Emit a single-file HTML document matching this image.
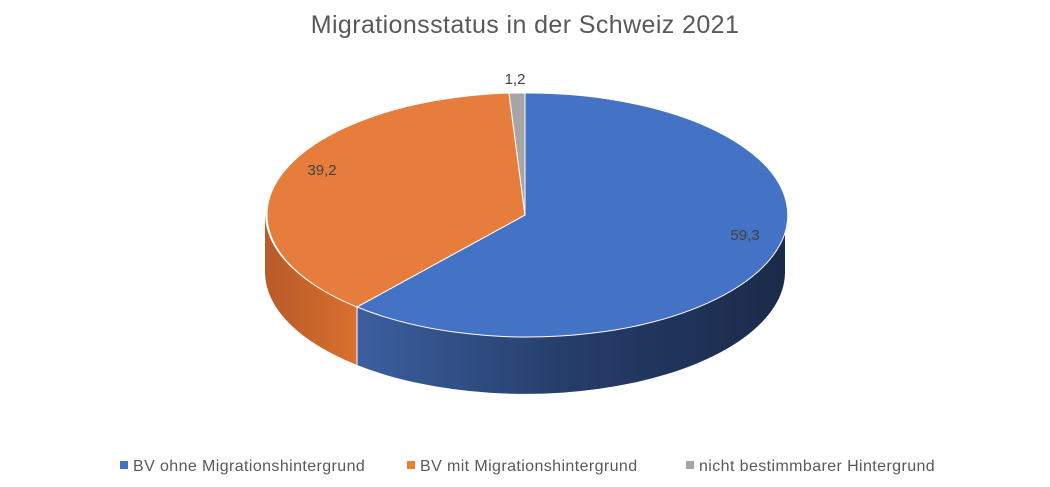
<!DOCTYPE html>
<html><head><meta charset="utf-8"><style>
html,body{margin:0;padding:0;background:#fff;}
svg{display:block;font-family:"Liberation Sans",sans-serif;}
</style></head><body>
<svg width="1050" height="487" viewBox="0 0 1050 487" xmlns="http://www.w3.org/2000/svg">
<defs>
<linearGradient id="gb" x1="357" y1="0" x2="785" y2="0" gradientUnits="userSpaceOnUse">
<stop offset="0" stop-color="#3c5f9f"/><stop offset="0.5" stop-color="#253d69"/><stop offset="1" stop-color="#1b2a4a"/></linearGradient>
<linearGradient id="go" x1="265" y1="0" x2="357" y2="0" gradientUnits="userSpaceOnUse">
<stop offset="0" stop-color="#b85a28"/><stop offset="1" stop-color="#d8702f"/></linearGradient>
</defs>
<text x="525" y="33" text-anchor="middle" font-size="25" letter-spacing="0.4" fill="#595959">Migrationsstatus in der Schweiz 2021</text>
<path d="M265,215 A260,122 0 0 0 357,307 L357,365 A260,122 0 0 1 265,273 Z" fill="url(#go)"/>
<path d="M357,307 A260,122 0 0 0 785,215 L785,273 A260,122 0 0 1 357,365 Z" fill="url(#gb)"/>
<line x1="357" y1="307" x2="357" y2="365" stroke="#fff" stroke-width="1"/>
<path d="M525,215 L525,93 A260,122 0 1 1 357,307 Z" fill="#4472c4" stroke="#fff" stroke-width="1"/>
<path d="M525,215 L357,307 A260,122 0 0 1 509,93 Z" fill="#e67d3c" stroke="#fff" stroke-width="1"/>
<path d="M525,215 L509,93 A260,122 0 0 1 525,93 Z" fill="#a5a5a5" stroke="#fff" stroke-width="1"/>
<g font-size="15" fill="#404040">
<text x="515" y="84" text-anchor="middle">1,2</text>
<text x="322" y="175" text-anchor="middle">39,2</text>
<text x="745" y="240" text-anchor="middle">59,3</text>
</g>
<g font-size="16" letter-spacing="0.4" fill="#595959">
<rect x="120" y="461" width="8" height="8" fill="#4472c4"/>
<text x="133" y="471">BV ohne Migrationshintergrund</text>
<rect x="407" y="461" width="8" height="8" fill="#ed7d31"/>
<text x="420" y="471">BV mit Migrationshintergrund</text>
<rect x="686" y="461" width="8" height="8" fill="#a5a5a5"/>
<text x="699" y="471">nicht bestimmbarer Hintergrund</text>
</g>
</svg>
</body></html>
